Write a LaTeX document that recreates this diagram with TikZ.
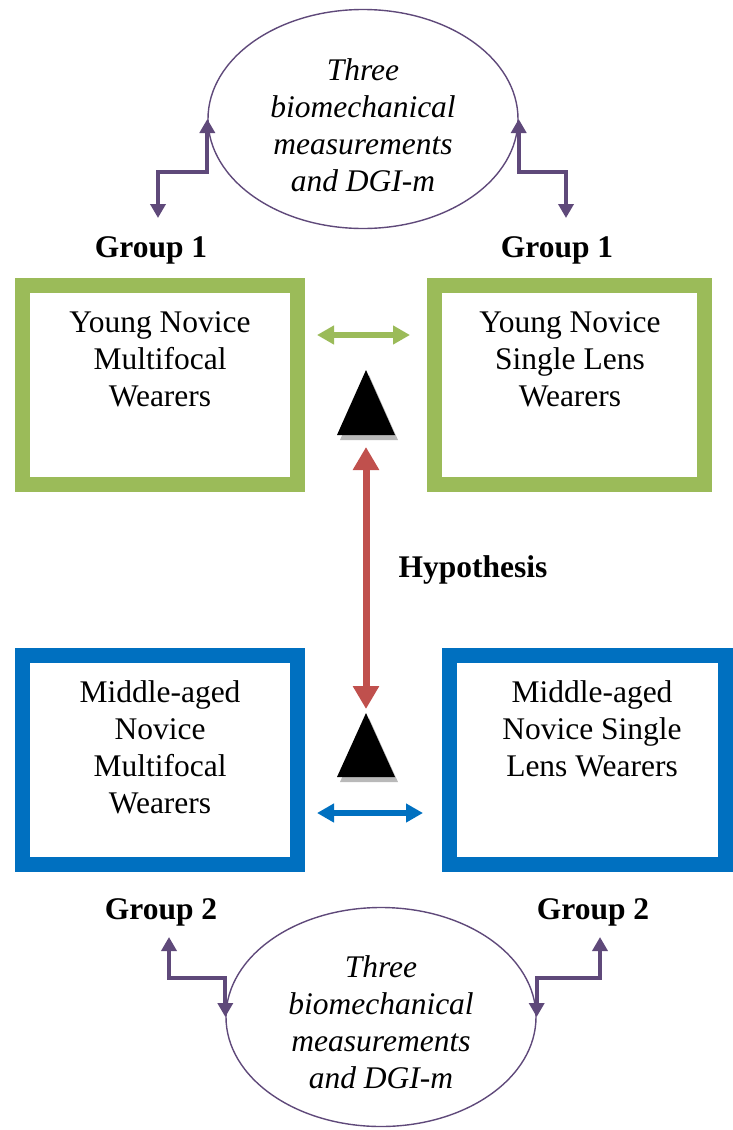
\documentclass[tikz,border=0pt]{standalone}
\usepackage{fontspec}
\setmainfont{Liberation Serif}
\usetikzlibrary{shapes.geometric,arrows.meta}
\definecolor{ppl}{HTML}{5F497A}
\definecolor{grn}{HTML}{9BBB59}
\definecolor{blu}{HTML}{0070C0}
\definecolor{rd}{HTML}{C0504D}
\begin{document}
\begin{tikzpicture}[x=1pt,y=1pt,
  txt/.style={font=\fontsize{31.5}{37}\selectfont, align=center, inner sep=0pt},
  grp/.style={font=\fontsize{31.5}{37}\selectfont\bfseries, inner sep=0pt},
  ell/.style={draw=ppl, line width=1.4pt, ellipse, minimum width=310, minimum height=219, inner sep=0pt},
  etxt/.style={font=\fontsize{31.5}{37}\selectfont\itshape, align=center, inner sep=0pt},
  gbox/.style={draw=grn, line width=15pt, rectangle, inner sep=0pt},
  bbox/.style={draw=blu, line width=15pt, rectangle, inner sep=0pt},
  parr/.style={draw=ppl, line width=4pt, {Triangle[width=15pt,length=14pt]}-{Triangle[width=15pt,length=14pt]}},
  garr/.style={draw=grn, line width=5.5pt, {Triangle[width=18pt,length=17pt]}-{Triangle[width=18pt,length=17pt]}},
  barr/.style={draw=blu, line width=5.5pt, {Triangle[width=18pt,length=17pt]}-{Triangle[width=18pt,length=17pt]}},
  rarr/.style={draw=rd, line width=7pt, {Triangle[width=25pt,length=23pt]}-{Triangle[width=25pt,length=23pt]}}
]
\useasboundingbox (0,0) rectangle (733,-1130);

% top ellipse
\node[ell] (e1) at (363,-119) {};
\node[etxt] (e1t) at (363,-125) {Three\\biomechanical\\measurements\\and DGI-m};

% bottom ellipse
\node[ell] (e2) at (381,-1017) {};
\node[etxt] (e2t) at (381,-1022) {Three\\biomechanical\\measurements\\and DGI-m};

% group labels
\node[grp] (g1l) at (151,-250) {Group 1};
\node[grp] (g1r) at (557,-250) {Group 1};
\node[grp] (g2l) at (161,-912) {Group 2};
\node[grp] (g2r) at (593,-912) {Group 2};
\node[grp] (hyp) at (473,-570) {Hypothesis};

% boxes
\node[gbox, minimum width=275, minimum height=199] (yl) at (160,-385) {};
\node[gbox, minimum width=270, minimum height=199] (yr) at (569.5,-385) {};
\node[bbox, minimum width=275, minimum height=209] (ml) at (160,-760) {};
\node[bbox, minimum width=276, minimum height=209] (mr) at (587.5,-760) {};

\node[txt] (ylt) at (160,-359) {Young Novice\\Multifocal\\Wearers};
\node[txt] (yrt) at (570,-359) {Young Novice\\Single Lens\\Wearers};
\node[txt] (mlt) at (160,-747) {Middle-aged\\Novice\\Multifocal\\Wearers};
\node[txt] (mrt) at (592,-729) {Middle-aged\\Novice Single\\Lens Wearers};

% triangles
\fill[gray!55] (340,-440) -- (369,-375) -- (398,-440) -- cycle;
\fill[black] (337,-435) -- (366,-370) -- (395,-435) -- cycle;
\fill[gray!55] (340,-782) -- (369,-718) -- (398,-782) -- cycle;
\fill[black] (337,-777) -- (366,-713) -- (395,-777) -- cycle;

% free-end coordinates
\coordinate (t1) at (158,-218);
\coordinate (t2) at (566,-218);
\coordinate (b1) at (169,-937);
\coordinate (b2) at (600,-937);
\coordinate (ga) at (317,-335);
\coordinate (gb) at (410,-335);
\coordinate (ba) at (317,-813);
\coordinate (bb) at (423,-813);
\coordinate (ra) at (366,-447);
\coordinate (rb) at (366,-709);

% purple elbow arrows
\draw[parr] (e1.west) -- ++(0,-53) -| (t1);
\draw[parr] (e1.east) -- ++(0,-53) -| (t2);
\draw[parr] (e2.west) -- ++(0,39) -| (b1);
\draw[parr] (e2.east) -- ++(0,39) -| (b2);

% horizontal and vertical arrows
\draw[garr] (ga) -- (gb);
\draw[barr] (ba) -- (bb);
\draw[rarr] (ra) -- (rb);
\end{tikzpicture}
\end{document}
